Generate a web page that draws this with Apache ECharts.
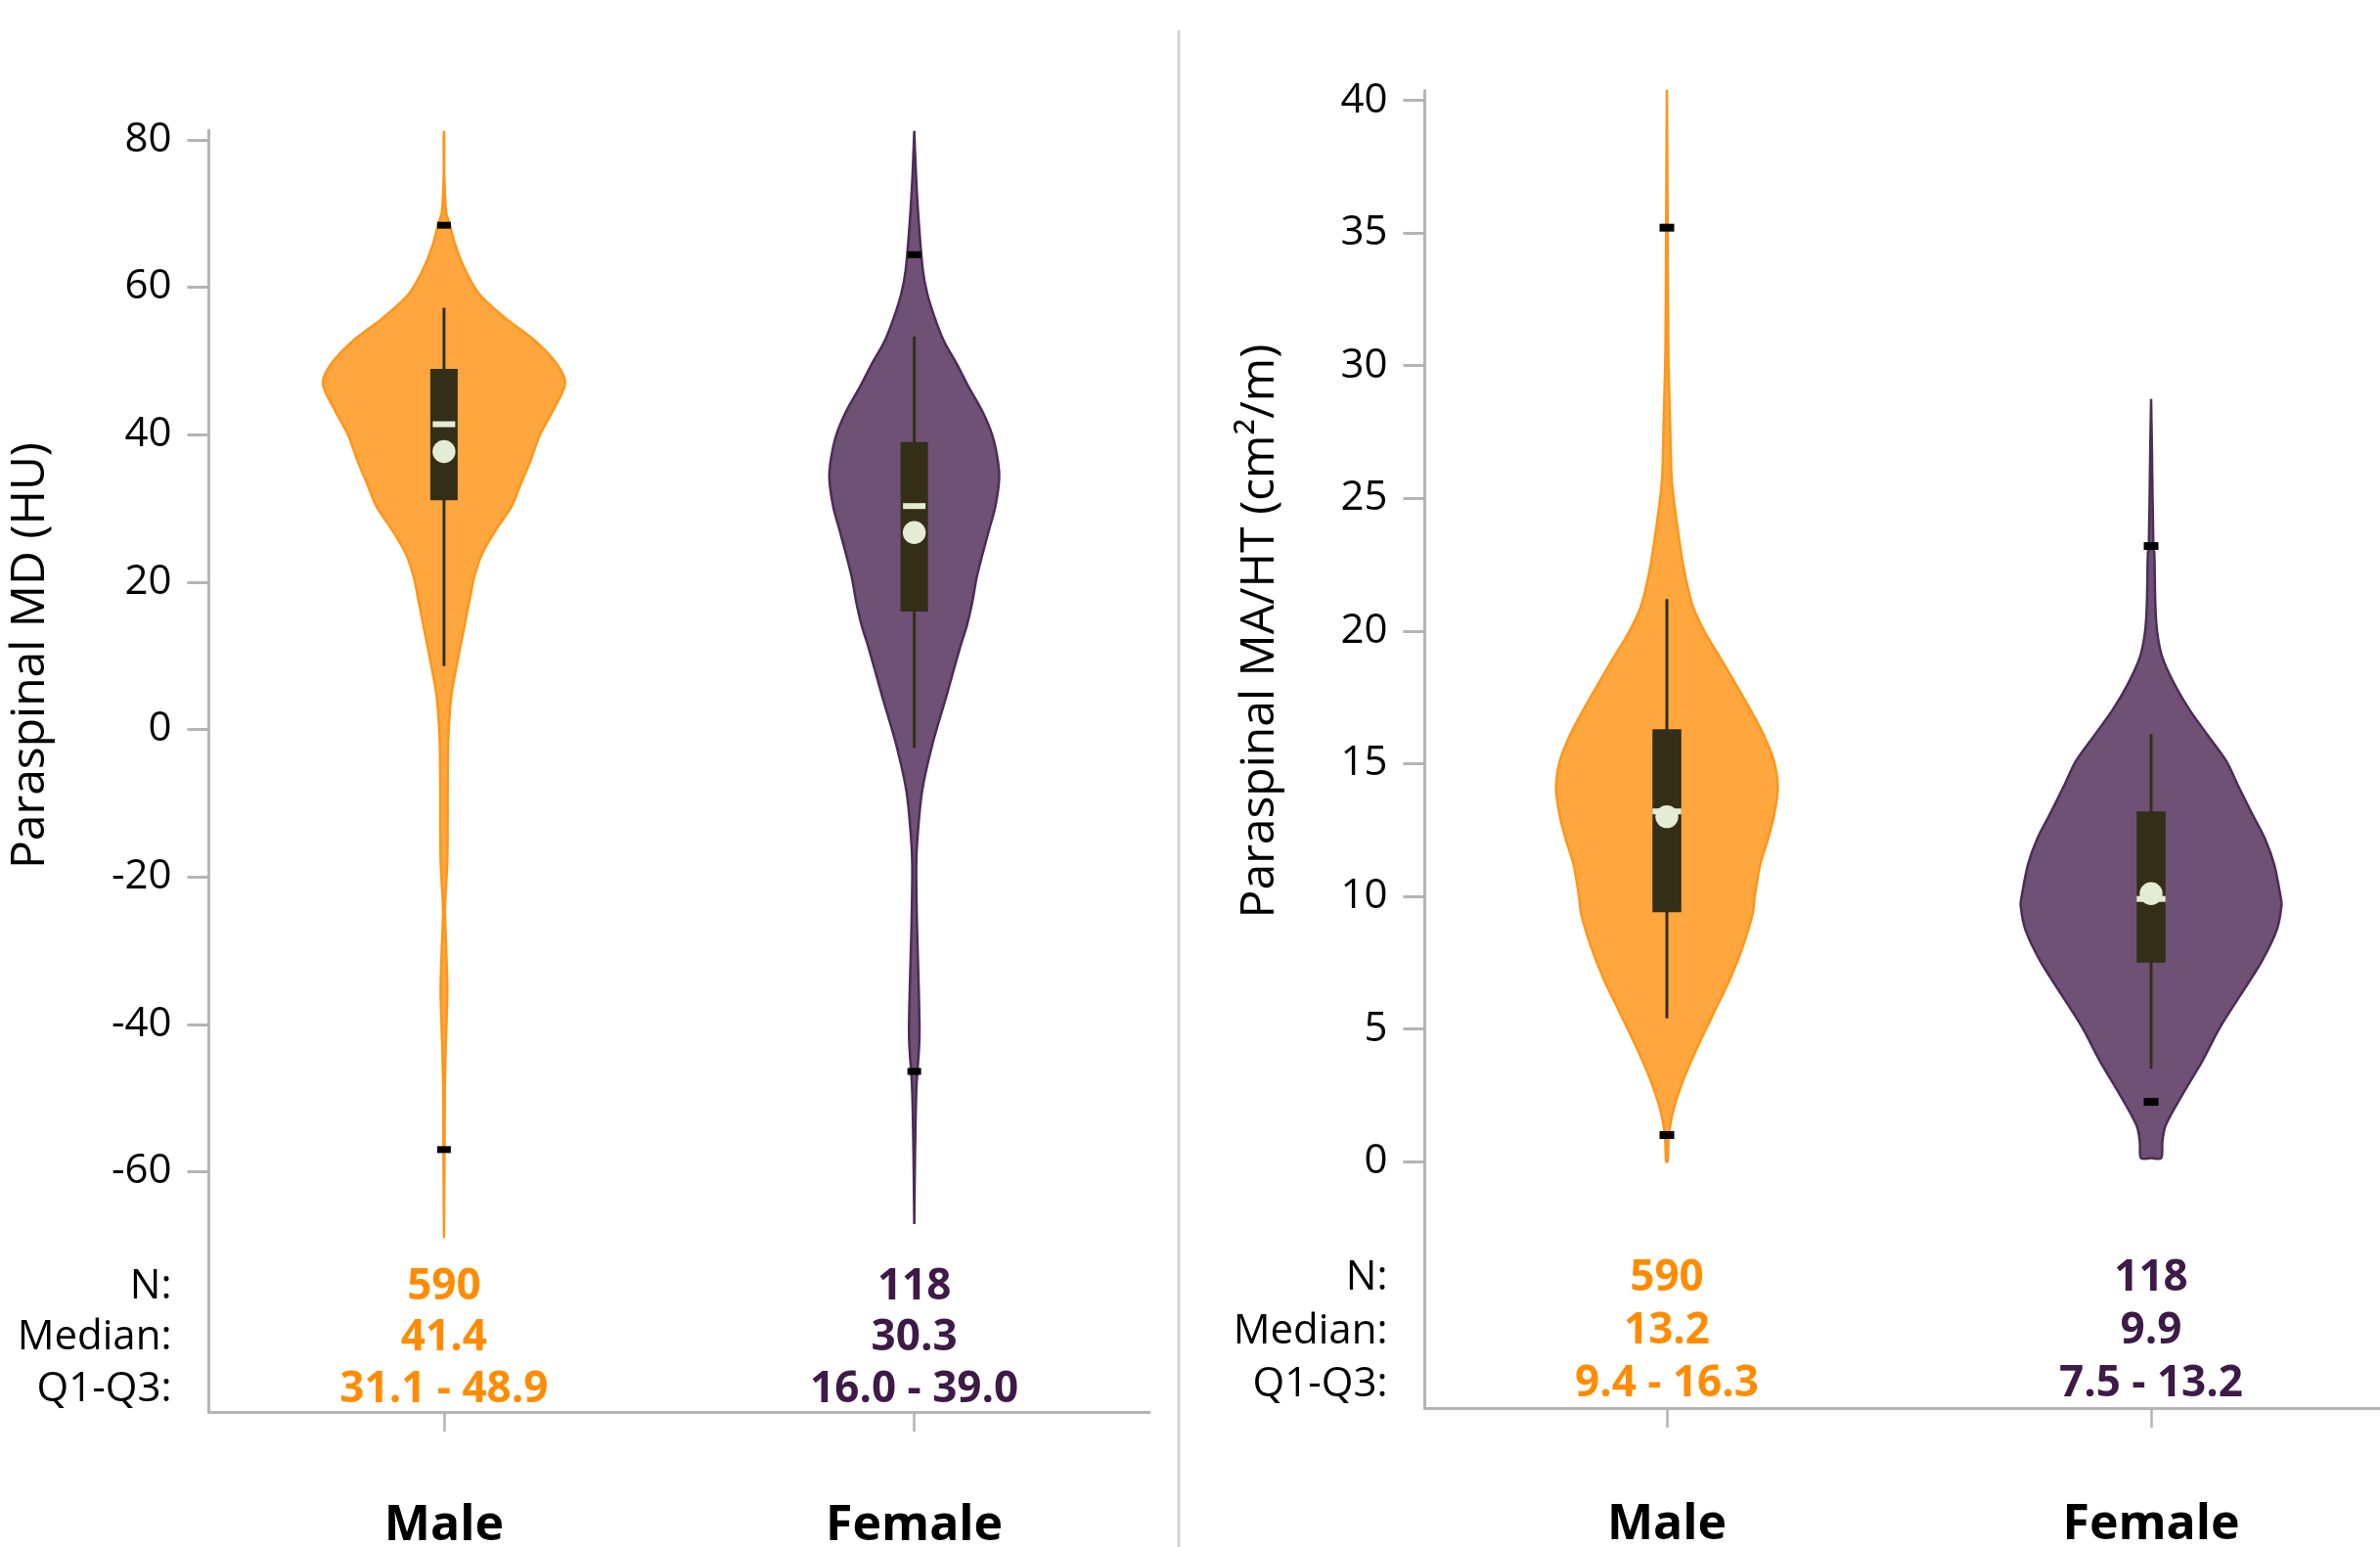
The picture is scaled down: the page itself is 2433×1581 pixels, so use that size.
<!DOCTYPE html>
<html>
<head>
<meta charset="utf-8">
<script src="https://cdn.jsdelivr.net/npm/echarts@6/dist/echarts.min.js"></script>
<style>
html,body{margin:0;padding:0;background:#ffffff;}
#chart{width:2433px;height:1581px;}
</style>
</head>
<body>
<div id="chart"></div>
<script>
// ---------------- DATA ----------------
const categories = ['Male', 'Female'];
const nCounts = [590, 118];

// Panel 1: Paraspinal MD (HU)
const mdTicks = [-60, -40, -20, 0, 20, 40, 60, 80];
const mdMedian = [41.4, 30.3];
const mdQ1 = [31.1, 16.0];
const mdQ3 = [48.9, 39.0];
const mdMean = [37.7, 26.7];
const mdWhiskerLow = [8.6, -2.5];
const mdWhiskerHigh = [57.2, 53.3];
const mdMarkLow = [-57.0, -46.4];
const mdMarkHigh = [68.4, 64.4];
// violin density profiles: value / half-width (% of category band)
const mdMaleY = [81.2, 80, 75, 70, 68.8, 65.6, 62.3, 59.1, 55.9, 52.7, 49.5, 46.9, 43.1, 39.9, 36.6, 33.4, 30.2, 27.0, 23.8, 20.6, 17.3, 10.9, 4.5, -1.9, -8.4, -17.8, -24.4, -30, -35.4, -42, -48.6, -56.8, -61.8, -69];
const mdMaleW = [0, 0.31, 0.31, 0.73, 1.35, 2.70, 4.78, 7.70, 13.10, 19.65, 24.33, 26.0, 23.29, 20.59, 18.72, 16.64, 14.56, 11.23, 8.32, 6.66, 5.62, 3.64, 1.81, 1.14, 1.04, 0.96, 0.46, 0.73, 0.96, 0.67, 0.42, 0.37, 0.31, 0];
const mdFemaleY = [81.2, 75.2, 68.8, 62.3, 59.1, 55.9, 52.7, 49.5, 46.4, 43.1, 39.9, 36.6, 34.0, 30.2, 27.0, 23.8, 20.6, 17.3, 14.1, 10.9, 4.5, -1.9, -8.4, -14.8, -18.6, -26.6, -35.4, -42, -48.6, -57.4, -67.1];
const mdFemaleW = [0, 0.62, 1.21, 2.08, 3.02, 4.58, 6.55, 9.36, 11.86, 14.77, 16.85, 17.99, 18.30, 17.47, 16.12, 14.77, 13.52, 12.60, 11.44, 9.88, 7.07, 4.16, 1.91, 0.92, 0.67, 0.83, 1.21, 1.35, 0.71, 0.42, 0];

// Panel 2: Paraspinal MA/HT (cm²/m)
const maTicks = [0, 5, 10, 15, 20, 25, 30, 35, 40];
const maMedian = [13.2, 9.9];
const maQ1 = [9.4, 7.5];
const maQ3 = [16.3, 13.2];
const maMean = [13.0, 10.1];
const maWhiskerLow = [5.4, 3.5];
const maWhiskerHigh = [21.2, 16.1];
const maMarkLow = [1.0, 2.25];
const maMarkHigh = [35.2, 23.2];
const maMaleY = [40.4, 35.2, 30.7, 27.8, 25.8, 24.8, 22.9, 21.9, 20.9, 19.95, 19.0, 18.0, 17.0, 16.05, 15.1, 14.1, 13.1, 12.15, 11.2, 10.0, 9.36, 8.12, 6.9, 5.67, 4.44, 3.2, 1.97, 1.0, 0.0];
const maMaleW = [0, 0.40, 0.53, 0.91, 1.21, 1.76, 3.23, 4.24, 5.66, 8.08, 11.21, 14.45, 17.58, 20.31, 22.35, 23.14, 22.43, 21.12, 19.52, 18.39, 17.98, 15.96, 13.34, 10.10, 6.87, 3.90, 1.62, 0.65, 0.40];
const maFemaleY = [28.74, 26.8, 23.2, 22.9, 20.93, 19.95, 19.0, 18.0, 17.0, 16.05, 15.1, 14.1, 13.1, 12.15, 11.2, 10.0, 9.66, 8.74, 7.51, 6.28, 5.05, 3.82, 2.6, 1.36, 0.75, 0.13];
const maFemaleW = [0, 0.42, 0.71, 0.91, 1.13, 1.50, 2.57, 5.05, 8.28, 12.02, 15.76, 18.39, 21.12, 23.80, 25.66, 26.97, 27.18, 26.21, 22.99, 18.71, 14.45, 10.91, 6.95, 3.23, 2.57, 2.32];

// ---------------- STYLE ----------------
const FILL = ['#FFA73E', '#6E5175'];
const STROKE = ['#FF9519', '#4B2D57'];
const TEXTC = ['#FF8C00', '#3D1A47'];
const BOXC = '#332E18';
const CREAM = '#E5ECD6';
const AXC = '#b4b4b4';
const FONT = '"Open Sans", "Noto Sans", sans-serif';
const rowNames = ['N:', 'Median:', 'Q1-Q3:'];

const panels = [
  { ticks: mdTicks, min: -92.6, max: 81.3, rows: [-75.65, -82.55, -89.55],
    median: mdMedian, q1: mdQ1, q3: mdQ3, mean: mdMean, wLo: mdWhiskerLow, wHi: mdWhiskerHigh,
    mLo: mdMarkLow, mHi: mdMarkHigh, profY: [mdMaleY, mdFemaleY], profW: [mdMaleW, mdFemaleW],
    boxW: 28, medW: 23, markW: 14, markH: 7, labelMargin: 92,
    grid: { left: 213.5, top: 133, width: 961.5, height: 1310 } },
  { ticks: maTicks, min: -9.29, max: 40.37, rows: [-4.39, -6.41, -8.40],
    median: maMedian, q1: maQ1, q3: maQ3, mean: maMean, wLo: maWhiskerLow, wHi: maWhiskerHigh,
    mLo: maMarkLow, mHi: maMarkHigh, profY: [maMaleY, maFemaleY], profW: [maMaleW, maFemaleW],
    boxW: 29.5, medW: 29.5, markW: 15, markH: 8, labelMargin: 95,
    grid: { left: 1456.5, top: 92.5, width: 990, height: 1346.5 } }
];

function textEl(x, y, text, font, fill) {
  return { type: 'text', x: x, y: y, silent: true,
    style: { text: text, font: font, fill: fill, align: 'center', verticalAlign: 'middle',
             textAlign: 'center', textVerticalAlign: 'middle' } };
}

function makeRender(p) {
  return function (params, api) {
    const i = params.dataIndex;
    const band = api.size([1, 0])[0];
    const cx = api.coord([i, 0])[0];
    const Y = function (v) { return api.coord([i, v])[1]; };
    const ys = p.profY[i], ws = p.profW[i];
    const right = [], left = [];
    for (let k = 0; k < ys.length; k++) {
      const hw = Math.max(0, ws[k] / 100 * band - 1.2);
      const y = Y(ys[k]);
      right.push([cx + hw, y]);
      left.push([cx - hw, y]);
    }
    const last = ys.length - 1;
    let pts = [];
    if (ws[0] > 0.5) pts.push([cx, Y(ys[0])]);
    pts = pts.concat(right);
    if (ws[last] > 0.5) pts.push([cx, Y(ys[last])]);
    pts = pts.concat(left.reverse());
    const ch = [];
    ch.push({ type: 'polygon', shape: { points: pts, smooth: 0.3 },
      style: { fill: FILL[i], stroke: STROKE[i], lineWidth: 2.5 } });
    ch.push({ type: 'line', shape: { x1: cx, y1: Y(p.wHi[i]), x2: cx, y2: Y(p.wLo[i]) },
      style: { stroke: BOXC, lineWidth: 3 } });
    ch.push({ type: 'rect', shape: { x: cx - p.boxW / 2, y: Y(p.q3[i]), width: p.boxW, height: Y(p.q1[i]) - Y(p.q3[i]) },
      style: { fill: BOXC } });
    ch.push({ type: 'rect', shape: { x: cx - p.medW / 2, y: Y(p.median[i]) - 3, width: p.medW, height: 6 },
      style: { fill: CREAM } });
    ch.push({ type: 'circle', shape: { cx: cx, cy: Y(p.mean[i]), r: 11.7 }, style: { fill: CREAM } });
    [p.mLo[i], p.mHi[i]].forEach(function (v) {
      ch.push({ type: 'rect', shape: { x: cx - p.markW / 2, y: Y(v) - p.markH / 2, width: p.markW, height: p.markH },
        style: { fill: '#000000' } });
    });
    const vals = [String(nCounts[i]), p.median[i].toFixed(1), p.q1[i].toFixed(1) + ' - ' + p.q3[i].toFixed(1)];
    for (let r = 0; r < 3; r++) {
      ch.push(textEl(cx, Y(p.rows[r]), vals[r], 'bold 44px ' + FONT, TEXTC[i]));
    }
    return { type: 'group', children: ch };
  };
}

function labelFormatter(p) {
  return function (v) {
    for (let r = 0; r < 3; r++) if (Math.abs(v - p.rows[r]) < 1e-6) return rowNames[r];
    return String(v);
  };
}

const option = {
  animation: false,
  backgroundColor: '#ffffff',
  grid: panels.map(function (p) {
    return Object.assign({ containLabel: false, outerBoundsMode: 'none' }, p.grid);
  }),
  xAxis: panels.map(function (p, pi) {
    return {
      type: 'category', gridIndex: pi, data: categories, boundaryGap: true,
      axisLine: { show: true, onZero: false, lineStyle: { color: AXC, width: 3 } },
      axisTick: { show: true, alignWithLabel: true, length: 20, lineStyle: { color: AXC, width: 2.5 } },
      axisLabel: { color: '#000', fontFamily: FONT, fontWeight: 'bold', fontSize: 50, margin: p.labelMargin },
      splitLine: { show: false }
    };
  }),
  yAxis: panels.map(function (p, pi) {
    return {
      type: 'value', gridIndex: pi, min: p.min, max: p.max,
      axisLine: { show: true, onZero: false, lineStyle: { color: AXC, width: 3 } },
      axisTick: { show: true, customValues: p.ticks, length: 22, lineStyle: { color: AXC, width: 3 } },
      axisLabel: { show: true, customValues: p.ticks.concat(p.rows), formatter: labelFormatter(p),
        color: '#000', fontFamily: FONT, fontSize: 42, margin: 38 },
      splitLine: { show: false }
    };
  }),
  graphic: [
    { type: 'line', silent: true, shape: { x1: 1205, y1: 31, x2: 1205, y2: 1581 },
      style: { stroke: '#d3d3d3', lineWidth: 3 } },
    { type: 'text', x: 31, y: 670, rotation: Math.PI / 2, silent: true,
      style: { text: 'Paraspinal MD (HU)', font: '48px ' + FONT, fill: '#000',
               align: 'center', verticalAlign: 'middle', textAlign: 'center', textVerticalAlign: 'middle' } },
    { type: 'text', x: 1288, y: 645, rotation: Math.PI / 2, silent: true,
      style: { text: 'Paraspinal MA/HT (cm²/m)', font: '48px ' + FONT, fill: '#000',
               align: 'center', verticalAlign: 'middle', textAlign: 'center', textVerticalAlign: 'middle' } }
  ],
  series: panels.map(function (p, pi) {
    return {
      type: 'custom', coordinateSystem: 'cartesian2d', xAxisIndex: pi, yAxisIndex: pi,
      silent: true, clip: false,
      data: categories.map(function (c, i) { return [i, p.median[i]]; }),
      renderItem: makeRender(p)
    };
  })
};

const chart = echarts.init(document.getElementById('chart'), null, { renderer: 'canvas', width: 2433, height: 1581 });
chart.setOption(option);
</script>
</body>
</html>
